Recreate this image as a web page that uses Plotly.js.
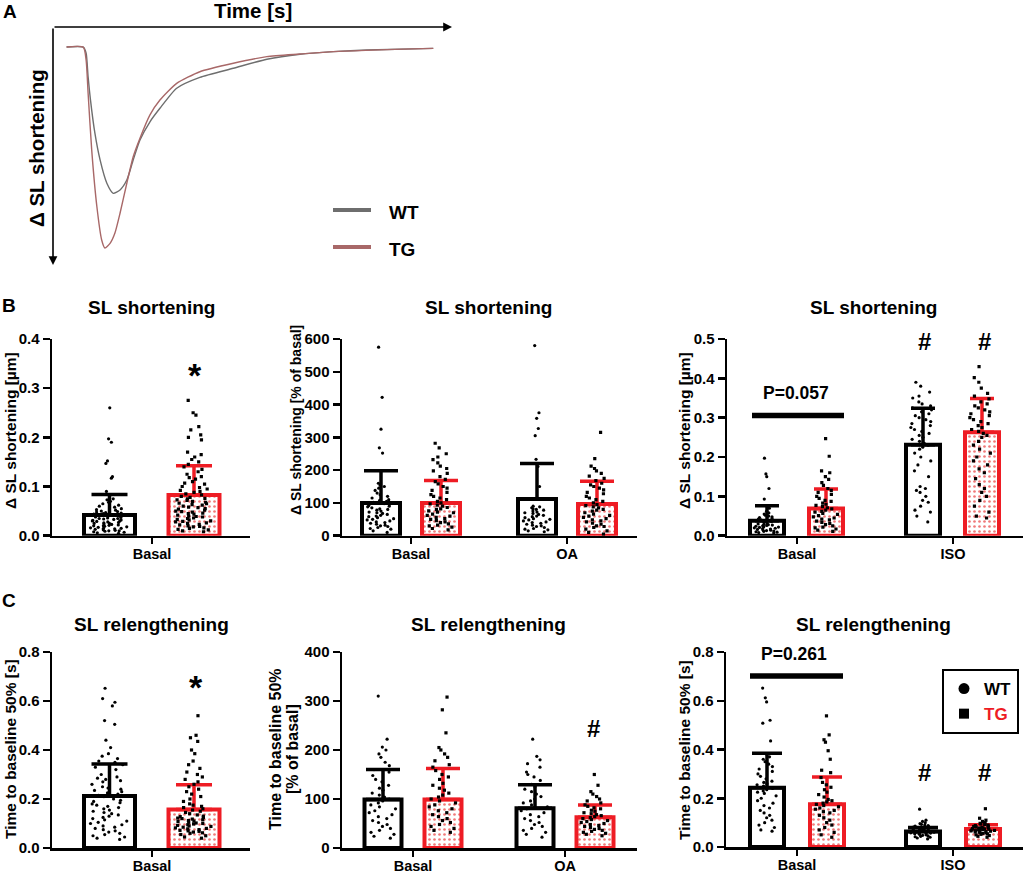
<!DOCTYPE html>
<html><head><meta charset="utf-8">
<script src="https://cdn.plot.ly/plotly-3.0.1.min.js"></script>
<style>html,body{margin:0;padding:0;background:#fff}</style>
</head><body>
<div id="chart" style="width:1026px;height:875px"></div>
<script>
// ---------- Panel A: representative transients ----------
const trace_time_WT = [0.034,0.076,0.083,0.088,0.094,0.105,0.118,0.135,0.151,0.168,0.185,0.201,0.218,0.243,0.268,0.310,0.368,0.452,0.536,0.619,0.703,0.786,0.953];
const trace_dSL_WT  = [0,0.001,0.031,0.148,0.264,0.429,0.562,0.678,0.728,0.711,0.662,0.562,0.463,0.372,0.305,0.205,0.151,0.106,0.061,0.036,0.023,0.015,0.007];
const trace_time_TG = [0.034,0.076,0.083,0.088,0.097,0.110,0.122,0.130,0.143,0.155,0.168,0.185,0.201,0.218,0.243,0.268,0.310,0.368,0.452,0.536,0.619,0.703,0.953];
const trace_dSL_TG  = [0,0.001,0.065,0.230,0.512,0.795,0.960,1.0,0.977,0.927,0.827,0.678,0.546,0.454,0.338,0.264,0.181,0.123,0.081,0.048,0.035,0.023,0.007];

// ---------- category labels ----------
const groupsB1 = ['Basal'];
const groupsB2 = ['Basal','OA'];
const groupsB3 = ['Basal','ISO'];
const groupsC1 = ['Basal'];
const groupsC2 = ['Basal','OA'];
const groupsC3 = ['Basal','ISO'];

// ---------- y tick labels ----------
const ticksFrac4 = ['0.0','0.1','0.2','0.3','0.4'];
const ticksFrac5 = ['0.0','0.1','0.2','0.3','0.4','0.5'];
const ticksPct600 = ['0','100','200','300','400','500','600'];
const ticksFrac8 = ['0.0','0.2','0.4','0.6','0.8'];
const ticksPct400 = ['0','100','200','300','400'];

// ---------- bar means and (upper) SD ----------
const B1_WT_mean=[0.042], B1_WT_sd=[0.042], B1_TG_mean=[0.083], B1_TG_sd=[0.059];
const B2_WT_mean=[100,112], B2_WT_sd=[98,108], B2_TG_mean=[100,97], B2_TG_sd=[68,69];
const B3_WT_mean=[0.038,0.231], B3_WT_sd=[0.038,0.093], B3_TG_mean=[0.069,0.263], B3_TG_sd=[0.05,0.086];
const C1_WT_mean=[0.212], C1_WT_sd=[0.131], C1_TG_mean=[0.157], C1_TG_sd=[0.101];
const C2_WT_mean=[99,81], C2_WT_sd=[61,48], C2_TG_mean=[99,63], C2_TG_sd=[63,25];
const C3_WT_mean=[0.243,0.064], C3_WT_sd=[0.142,0.016], C3_TG_mean=[0.175,0.074], C3_TG_sd=[0.112,0.017];

// ---------- individual cells ----------
const B1_WT_basal=[0.26,0.197,0.19,0.152,0.147,0.12,0.117,0.09,0.075,0.073,0.07,0.068,0.065,0.062,0.06,0.058,0.055,0.053,0.052,0.05,0.05,0.049,0.048,0.047,0.046,0.045,0.044,0.042,0.04,0.04,0.038,0.037,0.036,0.035,0.035,0.034,0.033,0.032,0.031,0.03,0.03,0.029,0.028,0.027,0.026,0.025,0.025,0.024,0.023,0.022,0.021,0.02,0.02,0.019,0.018,0.017,0.016,0.015,0.015,0.014,0.013,0.012,0.011,0.01,0.01,0.009,0.008,0.007,0.006,0.005];
const B1_TG_basal=[0.275,0.25,0.245,0.222,0.215,0.205,0.2,0.195,0.17,0.165,0.16,0.155,0.15,0.145,0.14,0.135,0.13,0.125,0.12,0.118,0.115,0.11,0.107,0.105,0.1,0.098,0.095,0.092,0.09,0.088,0.085,0.083,0.08,0.078,0.076,0.075,0.073,0.072,0.07,0.068,0.066,0.065,0.063,0.062,0.06,0.058,0.057,0.055,0.054,0.052,0.05,0.049,0.048,0.046,0.045,0.044,0.042,0.04,0.039,0.038,0.036,0.035,0.033,0.032,0.03,0.029,0.028,0.026,0.025,0.023,0.022,0.02,0.019,0.018,0.016,0.015,0.013,0.012,0.01,0.008];

const B2_WT_basal=[575,422,325,268,252,160,155,150,145,138,130,125,120,115,110,108,105,102,100,98,95,92,90,88,85,82,80,78,75,72,70,68,65,62,60,58,55,52,50,48,45,42,40,38,35,32,30,28,25,22,20,15,10];
const B2_WT_OA=[580,375,358,327,305,233,211,150,90,88,85,82,80,78,75,72,70,68,65,62,60,58,55,52,50,48,45,42,40,38,35,32,30,28,25,22,20,18,15,12];
const B2_TG_basal=[282,268,250,240,232,222,212,205,198,190,180,172,165,158,150,145,138,132,125,120,115,110,105,100,97,93,90,86,82,80,76,72,70,66,62,60,56,52,50,46,42,40,36,32,30,26,22,18];
const B2_TG_OA=[315,235,212,205,198,190,182,175,168,160,155,150,145,140,132,128,120,115,110,105,100,95,92,88,85,80,78,75,70,66,62,60,56,52,48,45,42,38,35,30,28,25,20,15,10,5];

const B3_WT_basal=[0.197,0.157,0.15,0.12,0.093,0.07,0.062,0.058,0.055,0.052,0.05,0.048,0.046,0.044,0.042,0.04,0.038,0.036,0.034,0.032,0.03,0.029,0.028,0.027,0.026,0.025,0.024,0.023,0.022,0.021,0.02,0.019,0.018,0.017,0.016,0.015,0.014,0.013,0.012,0.011,0.01,0.009,0.008,0.007];
const B3_WT_ISO=[0.39,0.38,0.365,0.355,0.35,0.34,0.335,0.33,0.325,0.32,0.315,0.31,0.305,0.3,0.295,0.29,0.285,0.28,0.275,0.27,0.265,0.26,0.255,0.25,0.245,0.24,0.235,0.23,0.225,0.22,0.21,0.2,0.19,0.18,0.165,0.15,0.125,0.12,0.115,0.11,0.1,0.09,0.085,0.075,0.065,0.06,0.05,0.035];
const B3_TG_basal=[0.247,0.202,0.165,0.16,0.15,0.143,0.135,0.128,0.12,0.115,0.11,0.105,0.1,0.095,0.09,0.087,0.083,0.08,0.077,0.074,0.071,0.068,0.065,0.062,0.06,0.057,0.054,0.051,0.048,0.045,0.042,0.04,0.037,0.034,0.031,0.028,0.025,0.022,0.02,0.017,0.014,0.011];
const B3_TG_ISO=[0.43,0.402,0.39,0.375,0.362,0.355,0.348,0.34,0.335,0.33,0.325,0.32,0.315,0.31,0.305,0.3,0.295,0.29,0.285,0.28,0.275,0.27,0.265,0.26,0.255,0.25,0.24,0.23,0.22,0.21,0.2,0.19,0.18,0.17,0.16,0.145,0.13,0.12,0.11,0.1,0.09,0.075,0.06,0.05,0.045];

const C1_WT_basal=[0.652,0.61,0.595,0.58,0.52,0.505,0.44,0.41,0.385,0.375,0.365,0.355,0.35,0.34,0.33,0.32,0.31,0.3,0.29,0.285,0.28,0.275,0.27,0.26,0.25,0.245,0.24,0.235,0.23,0.225,0.22,0.215,0.21,0.2,0.195,0.19,0.185,0.18,0.175,0.17,0.165,0.16,0.155,0.15,0.145,0.14,0.135,0.13,0.125,0.12,0.115,0.11,0.105,0.1,0.095,0.09,0.085,0.08,0.075,0.07,0.065,0.06,0.055,0.05,0.045,0.04,0.035];
const C1_TG_basal=[0.54,0.46,0.45,0.435,0.4,0.385,0.355,0.34,0.325,0.31,0.3,0.29,0.28,0.27,0.26,0.25,0.24,0.23,0.22,0.21,0.2,0.19,0.18,0.175,0.17,0.165,0.16,0.155,0.15,0.145,0.14,0.135,0.13,0.128,0.125,0.122,0.12,0.118,0.115,0.112,0.11,0.108,0.105,0.102,0.1,0.098,0.095,0.092,0.09,0.088,0.085,0.082,0.08,0.078,0.075,0.072,0.07,0.068,0.065,0.062,0.06,0.055,0.05,0.045,0.04];

const C2_WT_basal=[310,222,206,200,192,185,175,168,160,155,148,140,135,128,122,118,112,108,104,100,96,92,88,84,80,76,72,68,64,60,56,52,48,44,40,36,32,28,24,20];
const C2_WT_OA=[222,187,180,172,165,155,150,145,138,130,125,120,115,110,105,100,96,92,88,84,80,76,72,68,64,60,56,52,48,44,40,36,32,28,22];
const C2_TG_basal=[308,282,235,205,200,192,185,178,170,165,158,150,145,140,132,128,122,118,112,108,104,100,96,92,88,84,80,76,72,68,64,60,56,52,48,44,40,36,32];
const C2_TG_OA=[150,128,115,110,105,100,96,92,88,85,82,80,77,75,72,70,68,66,64,62,60,58,56,54,52,50,48,46,44,42,40,38,36,34,32,30,28,25];

const C3_WT_basal=[0.652,0.612,0.595,0.52,0.508,0.435,0.382,0.37,0.36,0.35,0.34,0.33,0.32,0.31,0.3,0.29,0.28,0.27,0.265,0.26,0.255,0.25,0.245,0.24,0.235,0.23,0.225,0.22,0.21,0.2,0.19,0.18,0.17,0.16,0.15,0.14,0.13,0.12,0.11,0.1,0.09,0.08,0.07,0.065];
const C3_WT_ISO=[0.155,0.11,0.105,0.1,0.096,0.093,0.09,0.088,0.086,0.084,0.082,0.08,0.078,0.076,0.075,0.074,0.072,0.07,0.069,0.068,0.066,0.065,0.064,0.062,0.061,0.06,0.058,0.057,0.056,0.055,0.054,0.052,0.05,0.048,0.046,0.044,0.042,0.04,0.037,0.033];
const C3_TG_basal=[0.538,0.46,0.44,0.43,0.395,0.36,0.315,0.305,0.285,0.265,0.255,0.245,0.235,0.225,0.215,0.205,0.195,0.19,0.185,0.18,0.175,0.17,0.165,0.16,0.155,0.15,0.145,0.14,0.13,0.12,0.11,0.1,0.09,0.08,0.07,0.06,0.05,0.04];
const C3_TG_ISO=[0.157,0.118,0.11,0.105,0.1,0.097,0.094,0.092,0.09,0.088,0.086,0.084,0.082,0.08,0.079,0.078,0.077,0.076,0.075,0.074,0.073,0.072,0.071,0.07,0.069,0.068,0.067,0.066,0.065,0.064,0.063,0.062,0.06,0.058,0.056,0.054,0.052,0.05,0.047,0.044,0.04];

// ---------- layout helpers ----------
const FONT='Liberation Sans, Arial, Helvetica, sans-serif';
const RED='#ee1c24';
const W=1026, H=875;
const fx=p=>p/W, fy=p=>1-p/H;

const panels=[
 {id:2, groups:groupsB1, x0:52, x1:250, t0:152, unit:156, ytop:339, ybot:535.7, ymax:0.4, yt:ticksFrac4, off:[-42.5,42], bw:51, cap:18,
  wt:{mean:B1_WT_mean, sd:B1_WT_sd, pts:[B1_WT_basal]}, tg:{mean:B1_TG_mean, sd:B1_TG_sd, pts:[B1_TG_basal]}},
 {id:3, groups:groupsB2, x0:342, x1:637, t0:411, unit:156, ytop:339, ybot:535.7, ymax:600, yt:ticksPct600, off:[-30,30], bw:38, cap:17,
  wt:{mean:B2_WT_mean, sd:B2_WT_sd, pts:[B2_WT_basal,B2_WT_OA]}, tg:{mean:B2_TG_mean, sd:B2_TG_sd, pts:[B2_TG_basal,B2_TG_OA]}},
 {id:4, groups:groupsB3, x0:727, x1:1023, t0:797, unit:156, ytop:339, ybot:535.7, ymax:0.5, yt:ticksFrac5, off:[-30,29], bw:34, cap:12,
  wt:{mean:B3_WT_mean, sd:B3_WT_sd, pts:[B3_WT_basal,B3_WT_ISO]}, tg:{mean:B3_TG_mean, sd:B3_TG_sd, pts:[B3_TG_basal,B3_TG_ISO]}},
 {id:5, groups:groupsC1, x0:52, x1:250, t0:152, unit:156, ytop:652, ybot:848, ymax:0.8, yt:ticksFrac8, off:[-42.5,42], bw:51, cap:18,
  wt:{mean:C1_WT_mean, sd:C1_WT_sd, pts:[C1_WT_basal]}, tg:{mean:C1_TG_mean, sd:C1_TG_sd, pts:[C1_TG_basal]}},
 {id:6, groups:groupsC2, x0:342, x1:637, t0:413, unit:152, ytop:652, ybot:848, ymax:400, yt:ticksPct400, off:[-30,30], bw:37, cap:17,
  wt:{mean:C2_WT_mean, sd:C2_WT_sd, pts:[C2_WT_basal,C2_WT_OA]}, tg:{mean:C2_TG_mean, sd:C2_TG_sd, pts:[C2_TG_basal,C2_TG_OA]}},
 {id:7, groups:groupsC3, x0:726, x1:1023, t0:797, unit:156, ytop:652, ybot:847, ymax:0.8, yt:ticksFrac8, off:[-30,30], bw:34, cap:15,
  wt:{mean:C3_WT_mean, sd:C3_WT_sd, pts:[C3_WT_basal,C3_WT_ISO]}, tg:{mean:C3_TG_mean, sd:C3_TG_sd, pts:[C3_TG_basal,C3_TG_ISO]}}
];

const data=[];
const layout={
  width:W, height:H, margin:{l:0,r:0,t:0,b:0}, paper_bgcolor:'#fff', plot_bgcolor:'rgba(0,0,0,0)',
  font:{family:FONT, color:'#000'}, showlegend:true,
  legend:{x:fx(942), y:fy(669), xanchor:'left', yanchor:'top', bordercolor:'#000', borderwidth:2, bgcolor:'#fff',
          font:{size:17, weight:'bold', family:FONT, color:'#000'}, itemwidth:30, tracegroupgap:0},
  annotations:[], shapes:[]
};

// Panel A
data.push({type:'scatter', mode:'lines', x:trace_time_WT, y:trace_dSL_WT, xaxis:'x', yaxis:'y', line:{color:'#6e6e6e', width:1.4, shape:'spline', smoothing:0.6}, showlegend:false, hoverinfo:'skip'});
data.push({type:'scatter', mode:'lines', x:trace_time_TG, y:trace_dSL_TG, xaxis:'x', yaxis:'y', line:{color:'#a86868', width:1.4, shape:'spline', smoothing:0.6}, showlegend:false, hoverinfo:'skip'});
layout.xaxis={domain:[fx(53),fx(452)], range:[0,1], visible:false, fixedrange:true};
layout.yaxis={domain:[fy(265),fy(27)], range:[1.0846,-0.0995], visible:false, fixedrange:true};

panels.forEach(p=>{
  const xa='x'+p.id, ya='y'+p.id;
  const idx=p.groups.map((g,i)=>i);
  [['wt',0],['tg',1]].forEach(([k,j])=>{
    const s=p[k], isTG=(k==='tg'), col=isTG?RED:'#000';
    const marker={color:'#fff', line:{color:col, width:4}};
    if(isTG) marker.pattern={shape:'.', fgcolor:'#f07a7a', bgcolor:'#fff', size:5, solidity:0.22};
    data.push({type:'bar', x:idx, y:s.mean, xaxis:xa, yaxis:ya, width:p.bw/p.unit, offset:(p.off[j]-p.bw/2)/p.unit,
      marker:marker,
      error_y:{type:'data', symmetric:false, array:s.sd, arrayminus:s.sd.map(()=>0), color:col, thickness:3.5, width:p.cap},
      showlegend:false, hoverinfo:'skip'});
    s.pts.forEach((arr,g)=>{
      data.push({type:'box', x0:g+p.off[j]/p.unit, y:arr, xaxis:xa, yaxis:ya, width:p.bw/p.unit*0.9,
        boxpoints:'all', jitter:0.85, pointpos:0, fillcolor:'rgba(0,0,0,0)', line:{color:'rgba(0,0,0,0)', width:0},
        marker:{color:'#000', size:3.2, symbol:isTG?'square':'circle'}, showlegend:false, hoverinfo:'skip'});
    });
  });
  const yvals=p.yt.map(Number);
  layout['xaxis'+p.id]={domain:[fx(p.x0),fx(p.x1)], range:[(p.x0-p.t0)/p.unit,(p.x1-p.t0)/p.unit], anchor:ya,
    showline:true, linewidth:2.5, linecolor:'#000', ticks:'outside', ticklen:6, tickwidth:2.5, tickcolor:'#000',
    tickvals:idx, ticktext:p.groups.map(t=>'<b>'+t+'</b>'), ticklabelstandoff:-3, tickfont:{size:14.5, color:'#000', family:FONT},
    showgrid:false, zeroline:false, fixedrange:true};
  layout['yaxis'+p.id]={domain:[fy(p.ybot),fy(p.ytop)], range:[0,p.ymax], anchor:xa,
    showline:true, linewidth:2.5, linecolor:'#000', ticks:'outside', ticklen:7, tickwidth:2.5, tickcolor:'#000',
    tickvals:yvals, ticktext:p.yt.map(t=>'<b>'+t+'</b>'), tickfont:{size:15, color:'#000', family:FONT},
    showgrid:false, zeroline:false, fixedrange:true};
});

// legend (panel C3)
data.push({type:'scatter', mode:'markers', x:[null], y:[null], xaxis:'x7', yaxis:'y7', name:'WT', marker:{symbol:'circle', size:11, color:'#000'}, showlegend:true});
data.push({type:'scatter', mode:'markers', x:[null], y:[null], xaxis:'x7', yaxis:'y7', name:'<span style="color:'+RED+'">TG</span>', marker:{symbol:'square', size:10, color:'#000'}, showlegend:true});

function ann(text,x,y,size,extra){
  layout.annotations.push(Object.assign({text:text, x:fx(x), y:fy(y), xref:'paper', yref:'paper', showarrow:false,
    xanchor:'center', yanchor:'middle', font:{size:size, weight:'bold', family:FONT, color:'#000'}}, extra||{}));
}
// panel letters
ann('A',10,12,19); ann('B',9,306,19); ann('C',9,600,19);
// panel A text
ann('Time [s]',253,10,20.5);
ann('Δ SL shortening',36,148,20.5,{textangle:-90});
ann('WT',387,212,19,{xanchor:'left'});
ann('TG',387,249,19,{xanchor:'left'});
// arrows
layout.annotations.push({x:fx(452), y:fy(27), xref:'paper', yref:'paper', ax:-399, ay:0, showarrow:true, arrowhead:2, arrowsize:1.1, arrowwidth:1.6, arrowcolor:'#000', text:''});
layout.annotations.push({x:fx(53), y:fy(265), xref:'paper', yref:'paper', ax:0, ay:-238, showarrow:true, arrowhead:2, arrowsize:1.1, arrowwidth:1.6, arrowcolor:'#000', text:''});
// legend lines in panel A
layout.shapes.push({type:'line', xref:'paper', yref:'paper', x0:fx(333), x1:fx(371), y0:fy(210), y1:fy(210), line:{color:'#6e6e6e', width:4}});
layout.shapes.push({type:'line', xref:'paper', yref:'paper', x0:fx(333), x1:fx(371), y0:fy(247), y1:fy(247), line:{color:'#a86868', width:4}});

// titles
ann('SL shortening',151,307,19); ann('SL shortening',488,307,19); ann('SL shortening',873,307,19);
ann('SL relengthening',151,624,19); ann('SL relengthening',488,624,19); ann('SL relengthening',873,624,19);
// y titles
ann('Δ SL shortening [µm]',10,431,15.5,{textangle:-90});
ann('Δ SL shortening [% of basal]',296,420,14,{textangle:-90});
ann('Δ SL shortening [µm]',684,431,15.5,{textangle:-90});
ann('Time to baseline 50% [s]',10,749,15.5,{textangle:-90});
ann('Time to baseline 50%',275,749,16,{textangle:-90});
ann('[% of basal]',292,749,16,{textangle:-90});
ann('Time to baseline 50% [s]',684,750,15.5,{textangle:-90});
// significance marks
ann('*',195,375,34); ann('*',196,687,34);
ann('#',924,342,24); ann('#',984,342,24);
ann('#',593,728,24);
ann('#',924,772,24); ann('#',984,772,24);
ann('P=0.057',796,393,17.5); ann('P=0.261',794,654,17.5);
layout.shapes.push({type:'line', xref:'paper', yref:'paper', x0:fx(752), x1:fx(844), y0:fy(415.5), y1:fy(415.5), line:{color:'#000', width:5.5}});
layout.shapes.push({type:'line', xref:'paper', yref:'paper', x0:fx(750), x1:fx(843), y0:fy(676), y1:fy(676), line:{color:'#000', width:5.5}});

Plotly.newPlot('chart', data, layout, {staticPlot:true});
</script>
</body></html>
